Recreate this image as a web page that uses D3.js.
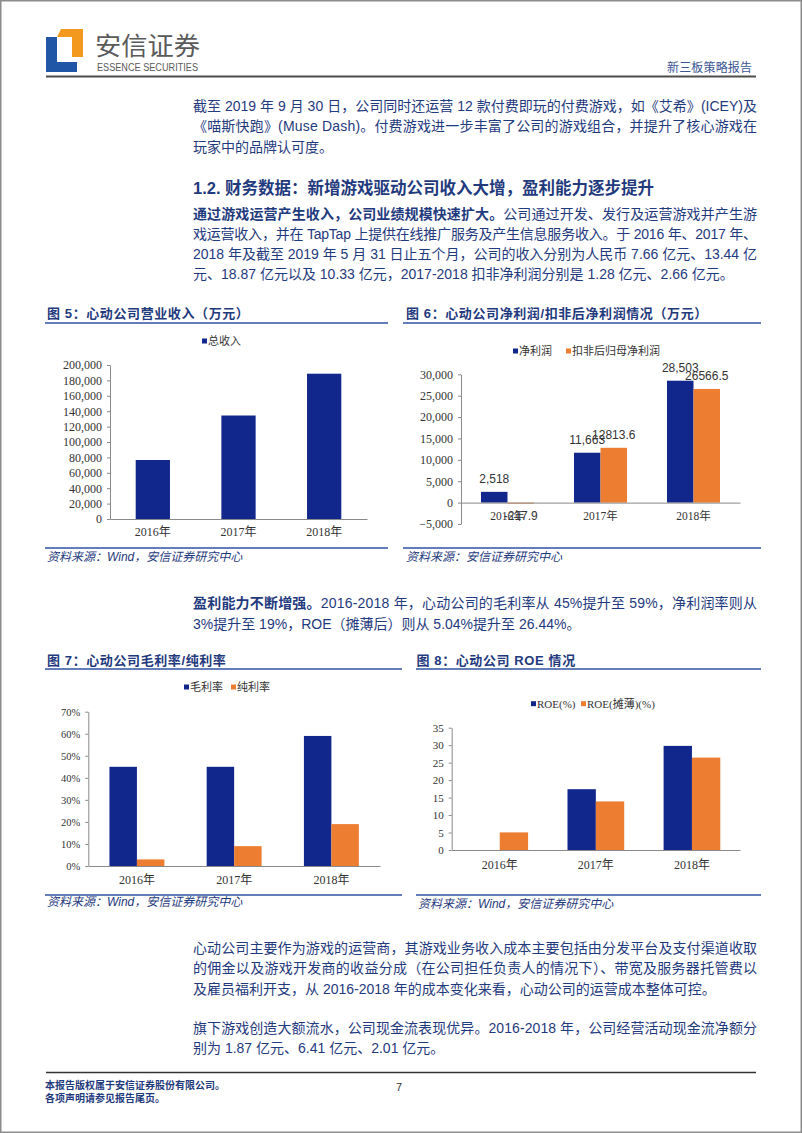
<!DOCTYPE html>
<html><head><meta charset="utf-8">
<script src="https://cdn.jsdelivr.net/npm/d3@7"></script>
<style>body{margin:0;background:#fff}svg{display:block}</style>
</head><body>
<script>
// ---------- DATA ----------
const years = ["2016年", "2017年", "2018年"];
const revenue = [76600, 134400, 188700];               // 总收入 (万元)
const netProfit = [2518, 11663, 28503];                 // 净利润
const deductedProfit = [-217.9, 12813.6, 26566.5];      // 扣非后归母净利润
const grossMargin = [45, 45, 59];                       // 毛利率 %
const netMargin = [3, 9, 19];                           // 纯利率 %
const roe = [0, 17.4, 29.8];                            // ROE(%)
const roeDiluted = [5.04, 13.9, 26.44];                 // ROE(摊薄)(%)
const revTicks = [0,20000,40000,60000,80000,100000,120000,140000,160000,180000,200000];
const profitTicks = [-5000,0,5000,10000,15000,20000,25000,30000];
const marginTicks = [0,10,20,30,40,50,60,70];
const roeTicks = [0,5,10,15,20,25,30,35];

// ---------- STYLE ----------
const BLUE = "#12278c", ORANGE = "#ed7d31", TXT = "#1f3a7d", LINE = "#2f51a3", AX = "#8a8a8a";
const SANS = "'Liberation Sans','Noto Sans CJK SC',sans-serif";
const SERIF = "'Liberation Serif','Noto Sans CJK SC',serif";
const CJK = "'Noto Sans CJK SC',sans-serif";

const svg = d3.select("body").append("svg").attr("width", 802).attr("height", 1133);
svg.append("rect").attr("x",0.75).attr("y",0.75).attr("width",800.5).attr("height",1131.5)
  .attr("fill","#fff").attr("stroke","#8c8c8c").attr("stroke-width",1.5);

// ---------- HEADER ----------
svg.append("path").attr("d","M46,37H57V62H77V72H46Z").attr("fill","#1f56a6");
svg.append("path").attr("d","M61,29H83V57H72V37H57Z").attr("fill","#f39a1e");
svg.append("text").attr("x",95).attr("y",55).attr("font-family",CJK).attr("font-size",25)
  .attr("fill","#5a5a5a").attr("textLength",105).attr("lengthAdjust","spacingAndGlyphs").text("安信证券");
svg.append("text").attr("x",97).attr("y",70.5).attr("font-family","'Liberation Sans Narrow','Liberation Sans',sans-serif")
  .attr("font-size",10).attr("fill","#5a5a5a").attr("textLength",101).attr("lengthAdjust","spacingAndGlyphs").text("ESSENCE SECURITIES");
svg.append("text").attr("x",667).attr("y",68).attr("dy","0.35em").attr("font-family",CJK).attr("font-size",12)
  .attr("fill","#3a5595").attr("textLength",85).text("新三板策略报告");
svg.append("line").attr("x1",46).attr("x2",756).attr("y1",76.5).attr("y2",76.5).attr("stroke","#4d4d4d").attr("stroke-width",2);

// ---------- BODY TEXT ----------
function textLine(x, y, parts, justify, size, weight) {
  const t = svg.append("text").attr("x", x).attr("y", y).attr("dy", "0.35em")
    .attr("font-family", SANS).attr("font-size", size || 14).attr("fill", TXT)
    .attr("font-weight", weight || "normal");
  if (justify) t.attr("textLength", justify).attr("lengthAdjust", "spacing");
  parts.forEach(p => {
    const s = t.append("tspan").text(typeof p === "string" ? p : p[0]);
    if (typeof p !== "string") s.attr("font-weight", "bold");
  });
  return t;
}
const L = 193, JW = 564;
textLine(L,106,["截至 2019 年 9 月 30 日，公司同时还运营 12 款付费即玩的付费游戏，如《艾希》(ICEY)及"],JW);
textLine(L,126.5,["《喵斯快跑》(Muse Dash)。付费游戏进一步丰富了公司的游戏组合，并提升了核心游戏在"],JW);
textLine(L,147,["玩家中的品牌认可度。"]);

textLine(L,188,["1.2. 财务数据：新增游戏驱动公司收入大增，盈利能力逐步提升"],null,16.5,"bold");

textLine(L,214.5,[["通过游戏运营产生收入，公司业绩规模快速扩大。"],"公司通过开发、发行及运营游戏并产生游"],JW);
textLine(L,234.5,["戏运营收入，并在 TapTap 上提供在线推广服务及产生信息服务收入。于 2016 年、2017 年、"],JW);
textLine(L,254.5,["2018 年及截至 2019 年 5 月 31 日止五个月，公司的收入分别为人民币 7.66 亿元、13.44 亿"],JW);
textLine(L,274.5,["元、18.87 亿元以及 10.33 亿元，2017-2018 扣非净利润分别是 1.28 亿元、2.66 亿元。"]);

textLine(L,603.5,[["盈利能力不断增强。"],"2016-2018 年，心动公司的毛利率从 45%提升至 59%，净利润率则从"],JW);
textLine(L,624,["3%提升至 19%，ROE（摊薄后）则从 5.04%提升至 26.44%。"]);

textLine(L,948,["心动公司主要作为游戏的运营商，其游戏业务收入成本主要包括由分发平台及支付渠道收取"],JW);
textLine(L,968.5,["的佣金以及游戏开发商的收益分成（在公司担任负责人的情况下）、带宽及服务器托管费以"],JW);
textLine(L,989,["及雇员福利开支，从 2016-2018 年的成本变化来看，心动公司的运营成本整体可控。"]);
textLine(L,1028,["旗下游戏创造大额流水，公司现金流表现优异。2016-2018 年，公司经营活动现金流净额分"],JW);
textLine(L,1048.5,["别为 1.87 亿元、6.41 亿元、2.01 亿元。"]);

// ---------- FOOTER ----------
svg.append("line").attr("x1",46).attr("x2",756).attr("y1",1072.5).attr("y2",1072.5).attr("stroke","#333").attr("stroke-width",1.5);
textLine(45,1085,["本报告版权属于安信证券股份有限公司。"],null,10,"bold");
textLine(45,1098.5,["各项声明请参见报告尾页。"],null,10,"bold");
svg.append("text").attr("x",399).attr("y",1087).attr("dy","0.35em").attr("text-anchor","middle")
  .attr("font-family",SANS).attr("font-size",11).attr("fill","#333").text("7");

// ---------- CHART FRAME ----------
function frame(c) {
  svg.append("text").attr("x",c.tx).attr("y",c.ty).attr("dy","0.35em").attr("font-family",SANS)
    .attr("font-size",13).attr("font-weight","bold").attr("fill",TXT).attr("letter-spacing",0.6).text(c.title);
  [c.l1, c.l2].forEach(yy => svg.append("line").attr("x1",c.x1).attr("x2",c.x2).attr("y1",yy).attr("y2",yy)
    .attr("stroke",LINE).attr("stroke-width",1.3));
  svg.append("text").attr("x",c.sx).attr("y",c.sy).attr("dy","0.35em").attr("font-family",SANS)
    .attr("font-size",12).attr("font-style","italic").attr("fill",TXT).text(c.source);
}
function legend(items, cy) {
  items.forEach(it => {
    svg.append("rect").attr("x",it.x).attr("y",cy-2.5).attr("width",5).attr("height",5).attr("fill",it.color);
    svg.append("text").attr("x",it.x+6).attr("y",cy).attr("dy","0.35em").attr("font-family",it.font||CJK)
      .attr("font-size",11).attr("fill","#333").text(it.label);
  });
}
function chart(c) {
  const x = d3.scaleBand().domain(years).range(c.xr).paddingInner(c.pad).paddingOuter(c.pad/2);
  const y = d3.scaleLinear().domain(c.yd).range(c.yr);
  const n = c.series.length;
  const xs = d3.scaleBand().domain(d3.range(n)).range([0, x.bandwidth()]);
  const zero = y(0);
  c.series.forEach((s, si) => {
    svg.append("g").selectAll("rect").data(s.values).join("rect")
      .attr("x",(d,i)=>x(years[i])+xs(si)).attr("width",xs.bandwidth())
      .attr("y",d=>Math.min(y(d),zero)).attr("height",d=>Math.abs(y(d)-zero))
      .attr("fill",s.color);
    if (s.labels) {
      svg.append("g").selectAll("text").data(s.values).join("text")
        .attr("x",(d,i)=>x(years[i])+xs(si)+xs.bandwidth()/2)
        .attr("y",d=> d>=0 ? y(d)-13 : zero+13).attr("dy","0.35em").attr("text-anchor","middle")
        .attr("font-family",SANS).attr("font-size",12).attr("fill","#333").text(s.labels);
    }
  });
  const ya = svg.append("g").attr("transform",`translate(${c.xr[0]},0)`)
    .call(d3.axisLeft(y).tickValues(c.ticks).tickFormat(c.fmt).tickSize(3).tickSizeOuter(0).tickPadding(5));
  ya.selectAll("path,line").attr("stroke",AX);
  ya.selectAll("text").attr("font-family",SERIF).attr("font-size",c.yfs).attr("fill","#333");
  const xa = svg.append("g").attr("transform",`translate(0,${zero})`)
    .call(d3.axisBottom(x).tickSize(0).tickSizeOuter(0).tickPadding(c.xpad));
  xa.select("path").attr("stroke",AX);
  xa.selectAll("text").attr("font-family",SERIF).attr("font-size",c.xfs).attr("fill","#333");
  if (c.xlabY) xa.selectAll("text").attr("y", c.xlabY - zero).attr("dy","0.35em");
}

// Chart 5
frame({title:"图 5：心动公司营业收入（万元）",tx:47,ty:313,x1:45,x2:388,l1:323,l2:548,
  source:"资料来源：Wind，安信证券研究中心",sx:47,sy:557});
legend([{x:202,color:BLUE,label:"总收入"}],341);
chart({xr:[110,367],pad:0.6,yd:[0,200000],yr:[519,365],ticks:revTicks,fmt:d3.format(","),yfs:12,xfs:12,xpad:8,
  series:[{values:revenue,color:BLUE}]});

// Chart 6
frame({title:"图 6：心动公司净利润/扣非后净利润情况（万元）",tx:406,ty:313,x1:403,x2:761,l1:323,l2:548,
  source:"资料来源：安信证券研究中心",sx:406,sy:557});
legend([{x:513,color:BLUE,label:"净利润"},{x:566,color:ORANGE,label:"扣非后归母净利润"}],351);
chart({xr:[461,740],pad:0.43,yd:[-5000,30000],yr:[524,374.3],ticks:profitTicks,fmt:d3.format(","),yfs:12,xfs:11.5,xpad:8,xlabY:516,
  series:[{values:netProfit,color:BLUE,labels:d=>d3.format(",")(d)},
          {values:deductedProfit,color:ORANGE,labels:d=>String(d)}]});

// Chart 7
frame({title:"图 7：心动公司毛利率/纯利率",tx:47,ty:660,x1:45,x2:402,l1:669,l2:895,
  source:"资料来源：Wind，安信证券研究中心",sx:47,sy:902});
legend([{x:184,color:BLUE,label:"毛利率"},{x:231,color:ORANGE,label:"纯利率"}],687);
chart({xr:[88.3,380],pad:0.435,yd:[0,70],yr:[866,711.7],ticks:marginTicks,fmt:d=>d+"%",yfs:10.5,xfs:12,xpad:8,xlabY:880,
  series:[{values:grossMargin,color:BLUE},{values:netMargin,color:ORANGE}]});

// Chart 8
frame({title:"图 8：心动公司 ROE 情况",tx:416.5,ty:660,x1:416,x2:761,l1:669,l2:895,
  source:"资料来源：Wind，安信证券研究中心",sx:418,sy:904});
legend([{x:531,color:BLUE,label:"ROE(%)",font:SERIF},{x:581,color:ORANGE,label:"ROE(摊薄)(%)",font:SERIF}],703.7);
chart({xr:[451.7,740],pad:0.41,yd:[0,35],yr:[850,727.7],ticks:roeTicks,fmt:d=>String(d),yfs:11,xfs:12,xpad:8,xlabY:864.5,
  series:[{values:roe,color:BLUE},{values:roeDiluted,color:ORANGE}]});
</script>
</body></html>
